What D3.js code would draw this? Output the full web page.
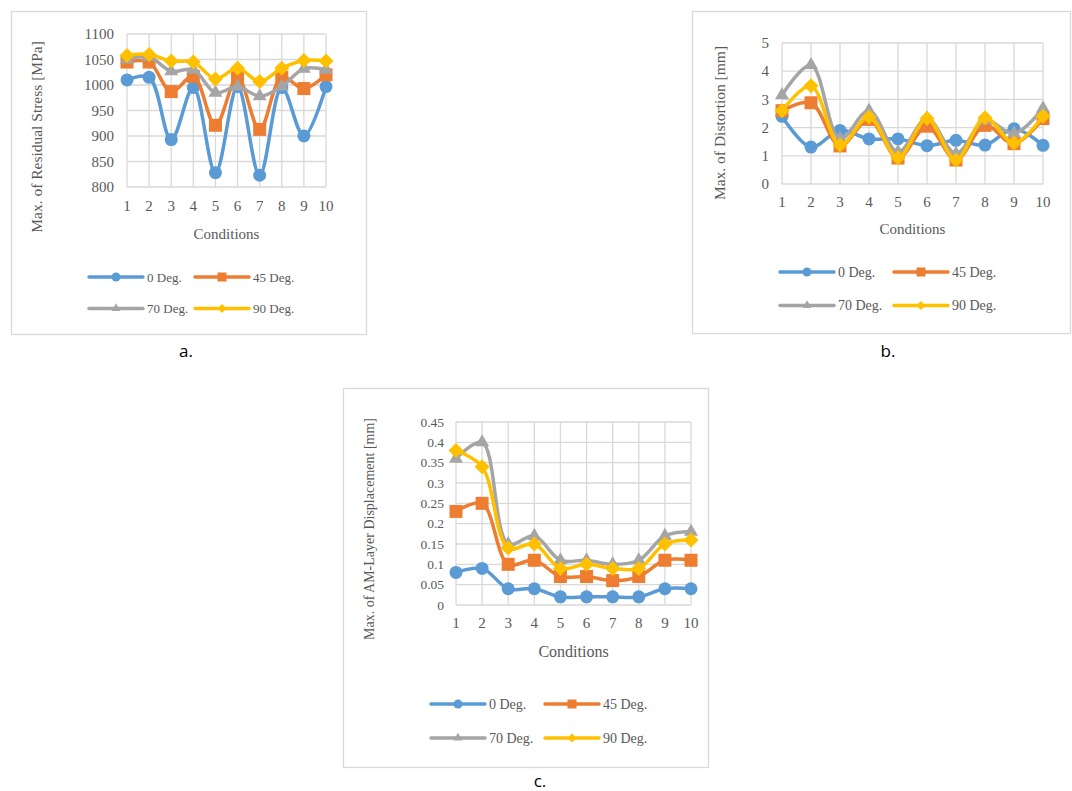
<!DOCTYPE html>
<html>
<head>
<meta charset="utf-8">
<script src="https://cdn.jsdelivr.net/npm/d3@7/dist/d3.min.js"></script>
<style>
  body { margin: 0; background: #fff; }
  svg text { font-family: "Liberation Serif", "Times New Roman", serif; fill: #595959; }
  svg text.cap { font-family: "Open Sans", "Liberation Sans", sans-serif; fill: #000; }
</style>
</head>
<body>
<svg id="chart" width="1072" height="791"></svg>
<script>
// categories and series
var conditions = [1, 2, 3, 4, 5, 6, 7, 8, 9, 10];
var seriesNames = ["0 Deg.", "45 Deg.", "70 Deg.", "90 Deg."];

var stress0  = [1010, 1015, 893, 995, 828, 997, 823, 995, 900, 997];
var stress45 = [1045, 1045, 987, 1017, 921, 1015, 913, 1015, 993, 1020];
var stress70 = [1050, 1055, 1027, 1030, 985, 997, 978, 997, 1032, 1030];
var stress90 = [1058, 1060, 1047, 1045, 1012, 1033, 1007, 1033, 1048, 1047];
var stressTicks = [800, 850, 900, 950, 1000, 1050, 1100];

var dist0  = [2.4, 1.31, 1.9, 1.6, 1.6, 1.36, 1.55, 1.38, 1.96, 1.37];
var dist45 = [2.6, 2.88, 1.35, 2.29, 0.92, 2.05, 0.85, 2.08, 1.43, 2.32];
var dist70 = [3.15, 4.22, 1.6, 2.6, 1.13, 2.32, 1.07, 2.26, 1.79, 2.68];
var dist90 = [2.6, 3.48, 1.38, 2.38, 0.93, 2.32, 0.85, 2.35, 1.45, 2.4];
var distTicks = [0, 1, 2, 3, 4, 5];

var disp0  = [0.08, 0.09, 0.04, 0.04, 0.02, 0.02, 0.02, 0.02, 0.04, 0.04];
var disp45 = [0.23, 0.25, 0.10, 0.11, 0.07, 0.07, 0.06, 0.07, 0.11, 0.11];
var disp70 = [0.36, 0.40, 0.15, 0.17, 0.11, 0.11, 0.10, 0.11, 0.17, 0.18];
var disp90 = [0.38, 0.34, 0.14, 0.15, 0.09, 0.10, 0.09, 0.09, 0.15, 0.16];
var dispTicks = [0, 0.05, 0.1, 0.15, 0.2, 0.25, 0.3, 0.35, 0.4, 0.45];

var colors = ["#5B9BD5", "#ED7D31", "#A5A5A5", "#FFC000"];
var shapes = ["circle", "square", "triangle", "diamond"];

var svg = d3.select("#chart");

function markerPath(shape, s) {
  // s = nominal width in px
  if (shape == "circle") return d3.symbol(d3.symbolCircle, Math.PI * s * s / 4)();
  if (shape == "square") return d3.symbol(d3.symbolSquare, s * s)();
  if (shape == "triangle") return d3.symbol(d3.symbolTriangle, Math.sqrt(3) / 4 * s * s)();
  var h = s / 2;
  return "M0," + (-h) + "L" + h + ",0L0," + h + "L" + (-h) + ",0Z";
}

function drawPanel(p) {
  var g = svg.append("g");

  g.append("rect")
    .attr("x", p.frame[0] + 0.5).attr("y", p.frame[1] + 0.5)
    .attr("width", p.frame[2] - p.frame[0]).attr("height", p.frame[3] - p.frame[1])
    .attr("fill", "#fff").attr("stroke", "#d9d9d9").attr("stroke-width", 1.3);

  var x = d3.scaleLinear().domain([1, 10]).range([p.left, p.right]);
  var y = d3.scaleLinear().domain([p.ticks[0], p.ticks[p.ticks.length - 1]]).range([p.bottom, p.top]);

  // gridlines
  g.append("g").selectAll("line.h").data(p.ticks).enter().append("line")
    .attr("x1", p.left).attr("x2", p.right)
    .attr("y1", function(d) { return y(d); }).attr("y2", function(d) { return y(d); })
    .attr("stroke", "#d9d9d9").attr("stroke-width", 1.3);
  g.append("g").selectAll("line.v").data(conditions).enter().append("line")
    .attr("x1", function(d) { return x(d); }).attr("x2", function(d) { return x(d); })
    .attr("y1", p.top).attr("y2", p.bottom)
    .attr("stroke", "#d9d9d9").attr("stroke-width", 1.3);

  // y tick labels
  g.append("g").selectAll("text").data(p.ticks).enter().append("text")
    .attr("x", p.left - p.ylabGap).attr("y", function(d) { return y(d); })
    .attr("dy", "0.35em").attr("text-anchor", "end")
    .style("font-size", p.tickFont + "px")
    .text(function(d) { return d; });

  // x tick labels
  g.append("g").selectAll("text").data(conditions).enter().append("text")
    .attr("x", function(d) { return x(d); }).attr("y", p.xlabY)
    .attr("dy", "0.35em").attr("text-anchor", "middle")
    .style("font-size", p.xTickFont + "px")
    .text(function(d) { return d; });

  // axis titles
  g.append("text")
    .attr("x", (p.left + p.right) / 2).attr("y", p.xTitleY)
    .attr("dy", "0.35em").attr("text-anchor", "middle")
    .style("font-size", p.titleFont + "px")
    .text("Conditions");
  g.append("text")
    .attr("transform", "translate(" + p.yTitle[0] + "," + p.yTitle[1] + ") rotate(-90)")
    .attr("dy", "0.35em").attr("text-anchor", "middle")
    .style("font-size", p.yTitleFont + "px")
    .text(p.yTitleText);

  var line = d3.line()
    .x(function(d, i) { return x(conditions[i]); })
    .y(function(d) { return y(d); })
    .curve(d3.curveCatmullRom.alpha(0.5));

  p.series.forEach(function(vals, k) {
    var sg = g.append("g");
    sg.append("path").datum(vals)
      .attr("d", line).attr("fill", "none")
      .attr("stroke", colors[k]).attr("stroke-width", 3.5)
      .attr("stroke-linejoin", "round").attr("stroke-linecap", "round");
    sg.selectAll("path.m").data(vals).enter().append("path")
      .attr("transform", function(d, i) { return "translate(" + x(conditions[i]) + "," + y(d) + ")"; })
      .attr("d", markerPath(shapes[k], shapes[k] == "diamond" ? 15 : (shapes[k] == "triangle" ? 14 : 13)))
      .attr("fill", colors[k]);
  });

  // legend
  seriesNames.forEach(function(name, k) {
    var lx = p.legend[0] + (k % 2) * p.legendColW;
    var ly = p.legend[1] + Math.floor(k / 2) * p.legendRowH;
    g.append("line")
      .attr("x1", lx).attr("x2", lx + 54).attr("y1", ly).attr("y2", ly)
      .attr("stroke", colors[k]).attr("stroke-width", 3.5).attr("stroke-linecap", "round");
    g.append("path")
      .attr("transform", "translate(" + (lx + 27) + "," + ly + ")")
      .attr("d", markerPath(shapes[k], 9))
      .attr("fill", colors[k]);
    g.append("text")
      .attr("x", lx + 58).attr("y", ly).attr("dy", "0.35em")
      .style("font-size", p.legendFont + "px")
      .text(name);
  });

  g.append("text").attr("class", "cap")
    .attr("x", p.caption[0]).attr("y", p.caption[1]).attr("dy", "0.35em")
    .attr("text-anchor", "middle").style("font-size", "17px")
    .text(p.captionText);
}

drawPanel({
  frame: [11, 11, 366, 334],
  left: 127, right: 326, top: 34, bottom: 187,
  ticks: stressTicks,
  series: [stress0, stress45, stress70, stress90],
  tickFont: 15, xTickFont: 15, titleFont: 15, yTitleFont: 15.5, legendFont: 13,
  ylabGap: 13, xlabY: 206, xTitleY: 234,
  yTitle: [37, 137], yTitleText: "Max. of Residual Stress [MPa]",
  legend: [89, 277], legendColW: 106, legendRowH: 31.5,
  caption: [186, 351], captionText: "a."
});

drawPanel({
  frame: [692, 11, 1070, 333],
  left: 782, right: 1043, top: 43, bottom: 184,
  ticks: distTicks,
  series: [dist0, dist45, dist70, dist90],
  tickFont: 15, xTickFont: 15, titleFont: 15, yTitleFont: 15.5, legendFont: 14,
  ylabGap: 13, xlabY: 202, xTitleY: 229,
  yTitle: [720, 123], yTitleText: "Max. of Distortion [mm]",
  legend: [780, 272], legendColW: 114, legendRowH: 33.5,
  caption: [888, 351], captionText: "b."
});

drawPanel({
  frame: [343, 388, 708, 767],
  left: 456, right: 691, top: 422, bottom: 605,
  ticks: dispTicks,
  series: [disp0, disp45, disp70, disp90],
  tickFont: 13.5, xTickFont: 15, titleFont: 16, yTitleFont: 14, legendFont: 14,
  ylabGap: 12, xlabY: 623, xTitleY: 651,
  yTitle: [369, 529], yTitleText: "Max. of AM-Layer Displacement [mm]",
  legend: [431, 704], legendColW: 114, legendRowH: 34,
  caption: [540, 781], captionText: "c."
});
</script>
</body>
</html>
